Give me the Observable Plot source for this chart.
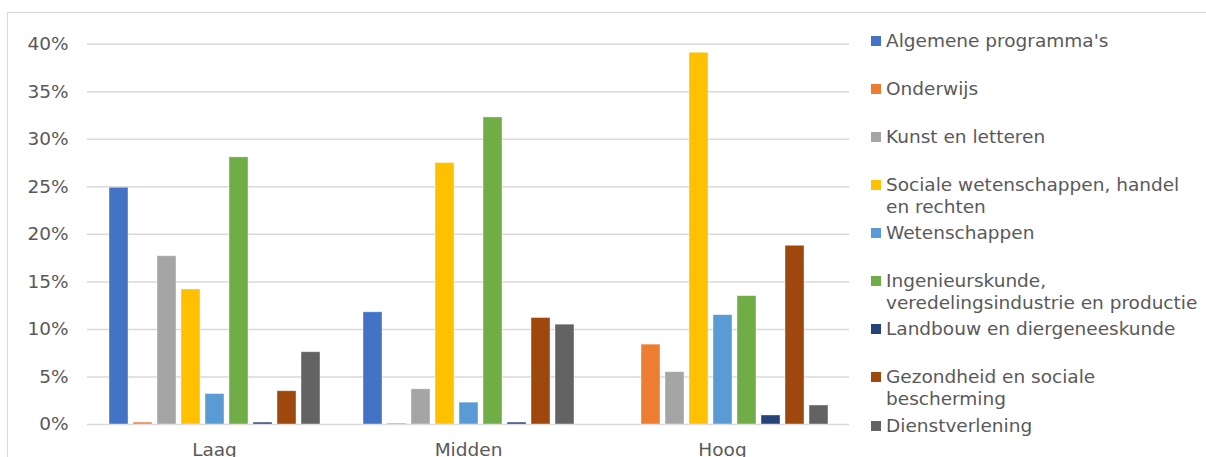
<!DOCTYPE html>
<html>
<head>
<meta charset="utf-8">
<script src="https://cdn.jsdelivr.net/npm/d3@7"></script>
<script src="https://cdn.jsdelivr.net/npm/@observablehq/plot@0.6"></script>
<style>
  html, body { margin: 0; padding: 0; background: #fff; }
  #wrap { position: relative; width: 1206px; height: 457px; overflow: hidden; background: #fff;
          font-family: "DejaVu Sans", Verdana, sans-serif; color: #595959; }
  #frame { position: absolute; left: 7px; top: 12px; width: 1220px; height: 470px;
           border: 1.5px solid #d9d9d9; box-sizing: border-box; }
  #chart { position: absolute; left: 0; top: 0; }
  .leg { position: absolute; left: 871px; font-size: 18.5px; line-height: 22px; }
  .leg .sw { position: absolute; left: 0; top: 6px; width: 10px; height: 10px; }
  .leg .tx { position: absolute; left: 15px; top: 0; white-space: nowrap; }
</style>
</head>
<body>
<div id="wrap"><div id="frame"></div><div id="chart"></div></div>
<script>
const levels = ["Laag", "Midden", "Hoog"];
const fields = [
  "Algemene programma's",
  "Onderwijs",
  "Kunst en letteren",
  "Sociale wetenschappen, handel en rechten",
  "Wetenschappen",
  "Ingenieurskunde, veredelingsindustrie en productie",
  "Landbouw en diergeneeskunde",
  "Gezondheid en sociale bescherming",
  "Dienstverlening"
];
const legendLines = [
  ["Algemene programma's"],
  ["Onderwijs"],
  ["Kunst en letteren"],
  ["Sociale wetenschappen, handel", "en rechten"],
  ["Wetenschappen"],
  ["Ingenieurskunde,", "veredelingsindustrie en productie"],
  ["Landbouw en diergeneeskunde"],
  ["Gezondheid en sociale", "bescherming"],
  ["Dienstverlening"]
];
const colors = ["#4472C4", "#ED7D31", "#A5A5A5", "#FFC000", "#5B9BD5", "#70AD47", "#264478", "#9E480E", "#636363"];
// percentages per field, in field order
const laag   = [24.9, 0.2, 17.7, 14.2, 3.2, 28.1, 0.2, 3.5, 7.6];
const midden = [11.8, 0.1, 3.7, 27.5, 2.3, 32.3, 0.2, 11.2, 10.5];
const hoog   = [0.0, 8.4, 5.5, 39.1, 11.5, 13.5, 0.95, 18.8, 2.0];
const yTicks = [0, 0.05, 0.10, 0.15, 0.20, 0.25, 0.30, 0.35, 0.40];

const series = [laag, midden, hoog];
const data = [];
levels.forEach((lv, i) => fields.forEach((f, j) => data.push({level: lv, field: f, value: series[i][j] / 100})));

const chart = Plot.plot({
  width: 860,
  height: 457,
  marginLeft: 87,
  marginRight: 11,
  marginTop: 43.7,
  marginBottom: 33,
  style: {fontFamily: "'DejaVu Sans', Verdana, sans-serif", fontSize: "18.5px", color: "#595959", background: "transparent", overflow: "visible"},
  fx: {domain: levels, padding: 0, label: null, axis: "bottom", tickSize: 0, tickPadding: 18},
  x: {domain: fields, paddingInner: 0.212, paddingOuter: 0.87, axis: null},
  y: {domain: [0, 0.4], ticks: 8, tickFormat: d3.format(".0%"), label: null, tickSize: 0, tickPadding: 19},
  color: {domain: fields, range: colors},
  marks: [
    Plot.ruleY(yTicks, {stroke: "#d9d9d9", strokeWidth: 1.5}),
    Plot.barY(data, {fx: "level", x: "field", y: "value", fill: "field", stroke: "white", strokeOpacity: 0.5, strokeWidth: 0.8})
  ]
});
document.getElementById("chart").appendChild(chart);

const wrap = d3.select("#wrap");
legendLines.forEach((lines, i) => {
  const cy = 40.7 + i * 48.1;
  const g = wrap.append("div").attr("class", "leg").style("top", (cy - 11) + "px");
  g.append("div").attr("class", "sw").style("background", colors[i]);
  const t = g.append("div").attr("class", "tx");
  lines.forEach((l, k) => { if (k) t.append("br"); t.append("span").text(l); });
});
</script>
</body>
</html>
